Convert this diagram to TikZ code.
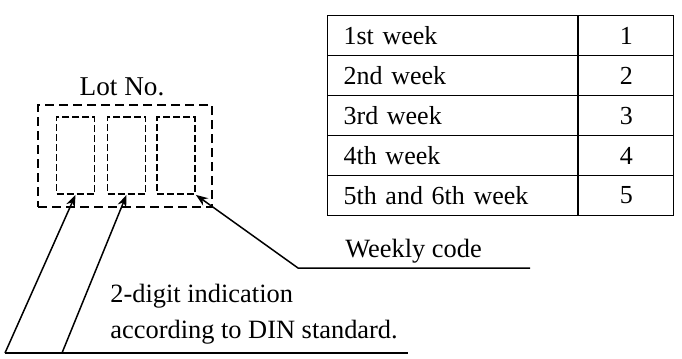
\documentclass[tikz,border=0pt]{standalone}
\usepackage{fontspec}
\setmainfont{Liberation Serif}
\usetikzlibrary{arrows.meta,positioning}
\tikzset{
  lotbox/.style={draw, line width=1.2pt, dash pattern=on 4.5pt off 2.5pt, inner sep=0pt,
    minimum width=87pt, minimum height=51pt},
  digitbox/.style={draw, line width=0.9pt, dash pattern=on 3.5pt off 1.5pt, inner sep=0pt,
    minimum width=19pt, minimum height=38.5pt},
  pointer/.style={-{Stealth[length=6pt,width=4.5pt]}, line width=0.75pt},
  notetext/.style={font=\fontsize{13.2}{16}\selectfont, inner sep=0pt},
  weekcell/.style={draw, line width=0.6pt, anchor=north west, inner xsep=8pt, inner ysep=0pt,
    minimum height=20pt, text width=109pt, align=left, font=\fontsize{13}{16}\selectfont},
  codecell/.style={draw, line width=0.6pt, anchor=north west, inner sep=0pt,
    minimum width=47.5pt, minimum height=20pt, font=\fontsize{13}{16}\selectfont}
}
\begin{document}
\begin{tikzpicture}[x=0.5pt, y=-0.5pt]
\useasboundingbox (0,0) rectangle (682,359);
% lot number field
\node [notetext, anchor=base, font=\fontsize{13.6}{16}\selectfont] (lotno) at (122,95) {Lot No.};
\node [lotbox] (lot) at (125,156) {};
\node [digitbox] (d1) at (75.5,155.5) {};
\node [digitbox] (d2) at (126.5,155.5) {};
\node [digitbox] (d3) at (176,155.5) {};
% weekly code table
\foreach \txt [count=\n] in {1st week,2nd week,3rd week,4th week,5th and 6th week} {
  \node [weekcell] (wk\n) at (327,{15+40*(\n-1)}) {\txt};
  \node [codecell] (code\n) at (wk\n.north east) {\n};
}
% leader lines
\coordinate (footL) at (5,353);
\coordinate (footM) at (62,353);
\coordinate (footR) at (408,353);
\coordinate (wkknee) at (298,268);
\coordinate (wkend) at (530,268);
\draw [line width=0.75pt] (footL) -- (footR);
\draw [pointer] (footL) -- (d1.south);
\draw [pointer] (footM) -- (d2.south);
\draw [pointer] (wkend) -- (wkknee) -- (d3.south east);
\node [notetext, anchor=base west] (weekly) at (345,257) {Weekly code};
\node [notetext, anchor=base west] (digit) at (110,302) {2-digit indication};
\node [notetext, anchor=base west] (din) at (110,338) {according to DIN standard.};
\end{tikzpicture}
\end{document}
